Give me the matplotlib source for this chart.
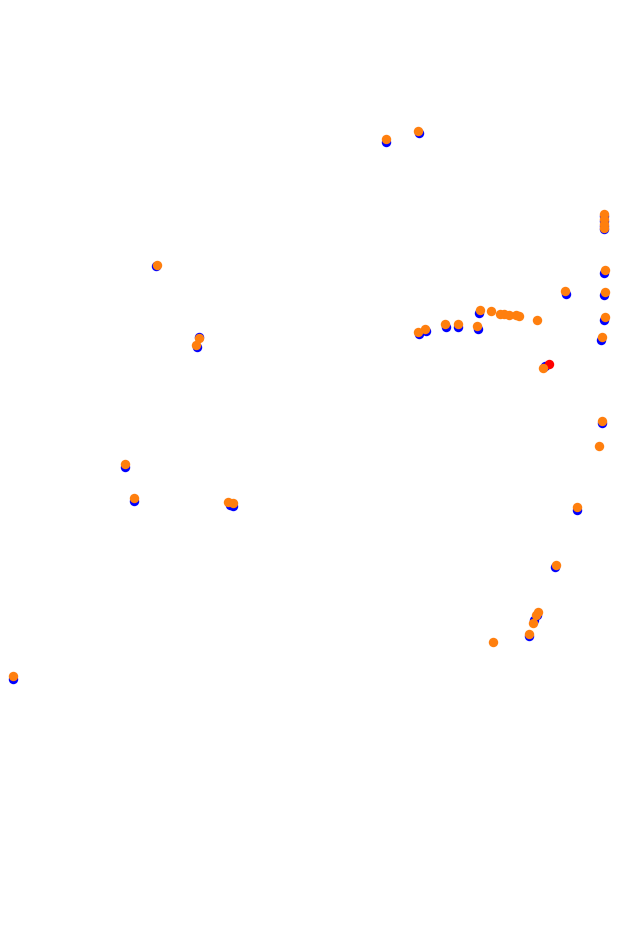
import matplotlib
matplotlib.use("Agg")
import matplotlib.pyplot as plt

# track points (x, y in image-like units; y grows downwards)
blue_x = [386, 419, 604, 604, 604, 604, 604, 604, 604, 601, 566, 156,
          419, 426, 446, 458, 478, 479, 545, 199, 197, 230, 233, 125,
          134, 602, 577, 555, 537, 534, 529, 13]
blue_y = [142, 133, 216, 221, 226, 229, 273, 295, 320, 340, 294, 266,
          334, 331, 327, 327, 329, 313, 366, 337, 347, 505, 506, 467,
          501, 423, 510, 567, 615, 620, 636, 679]

orange_x = [386, 418, 604, 604, 604, 604, 605, 605, 605, 602, 565, 157,
            418, 425, 445, 458, 477, 480, 491, 500, 504, 509, 516, 519,
            537, 543, 199, 196, 228, 233, 125, 134, 602, 599, 577, 556,
            538, 536, 533, 529, 493, 13]
orange_y = [139, 131, 214, 219, 224, 228, 270, 292, 317, 337, 291, 265,
            332, 329, 324, 324, 326, 310, 311, 314, 314, 315, 315, 316,
            320, 368, 338, 345, 502, 503, 464, 498, 421, 446, 507, 565,
            612, 615, 623, 634, 642, 676]

red_x = [549]
red_y = [364]

fig = plt.figure(figsize=(6.21, 9.39), dpi=100)
ax = fig.add_axes([0, 0, 1, 1])
ax.scatter(blue_x, blue_y, s=46, color="#0000ff", linewidths=0)
ax.scatter(red_x, red_y, s=46, color="#ff0000", linewidths=0)
ax.scatter(orange_x, orange_y, s=46, color="#ff7f0e", linewidths=0)
ax.set_xlim(0, 621)
ax.set_ylim(939, 0)
ax.axis("off")
fig.savefig("out.png", dpi=100, facecolor="white")
